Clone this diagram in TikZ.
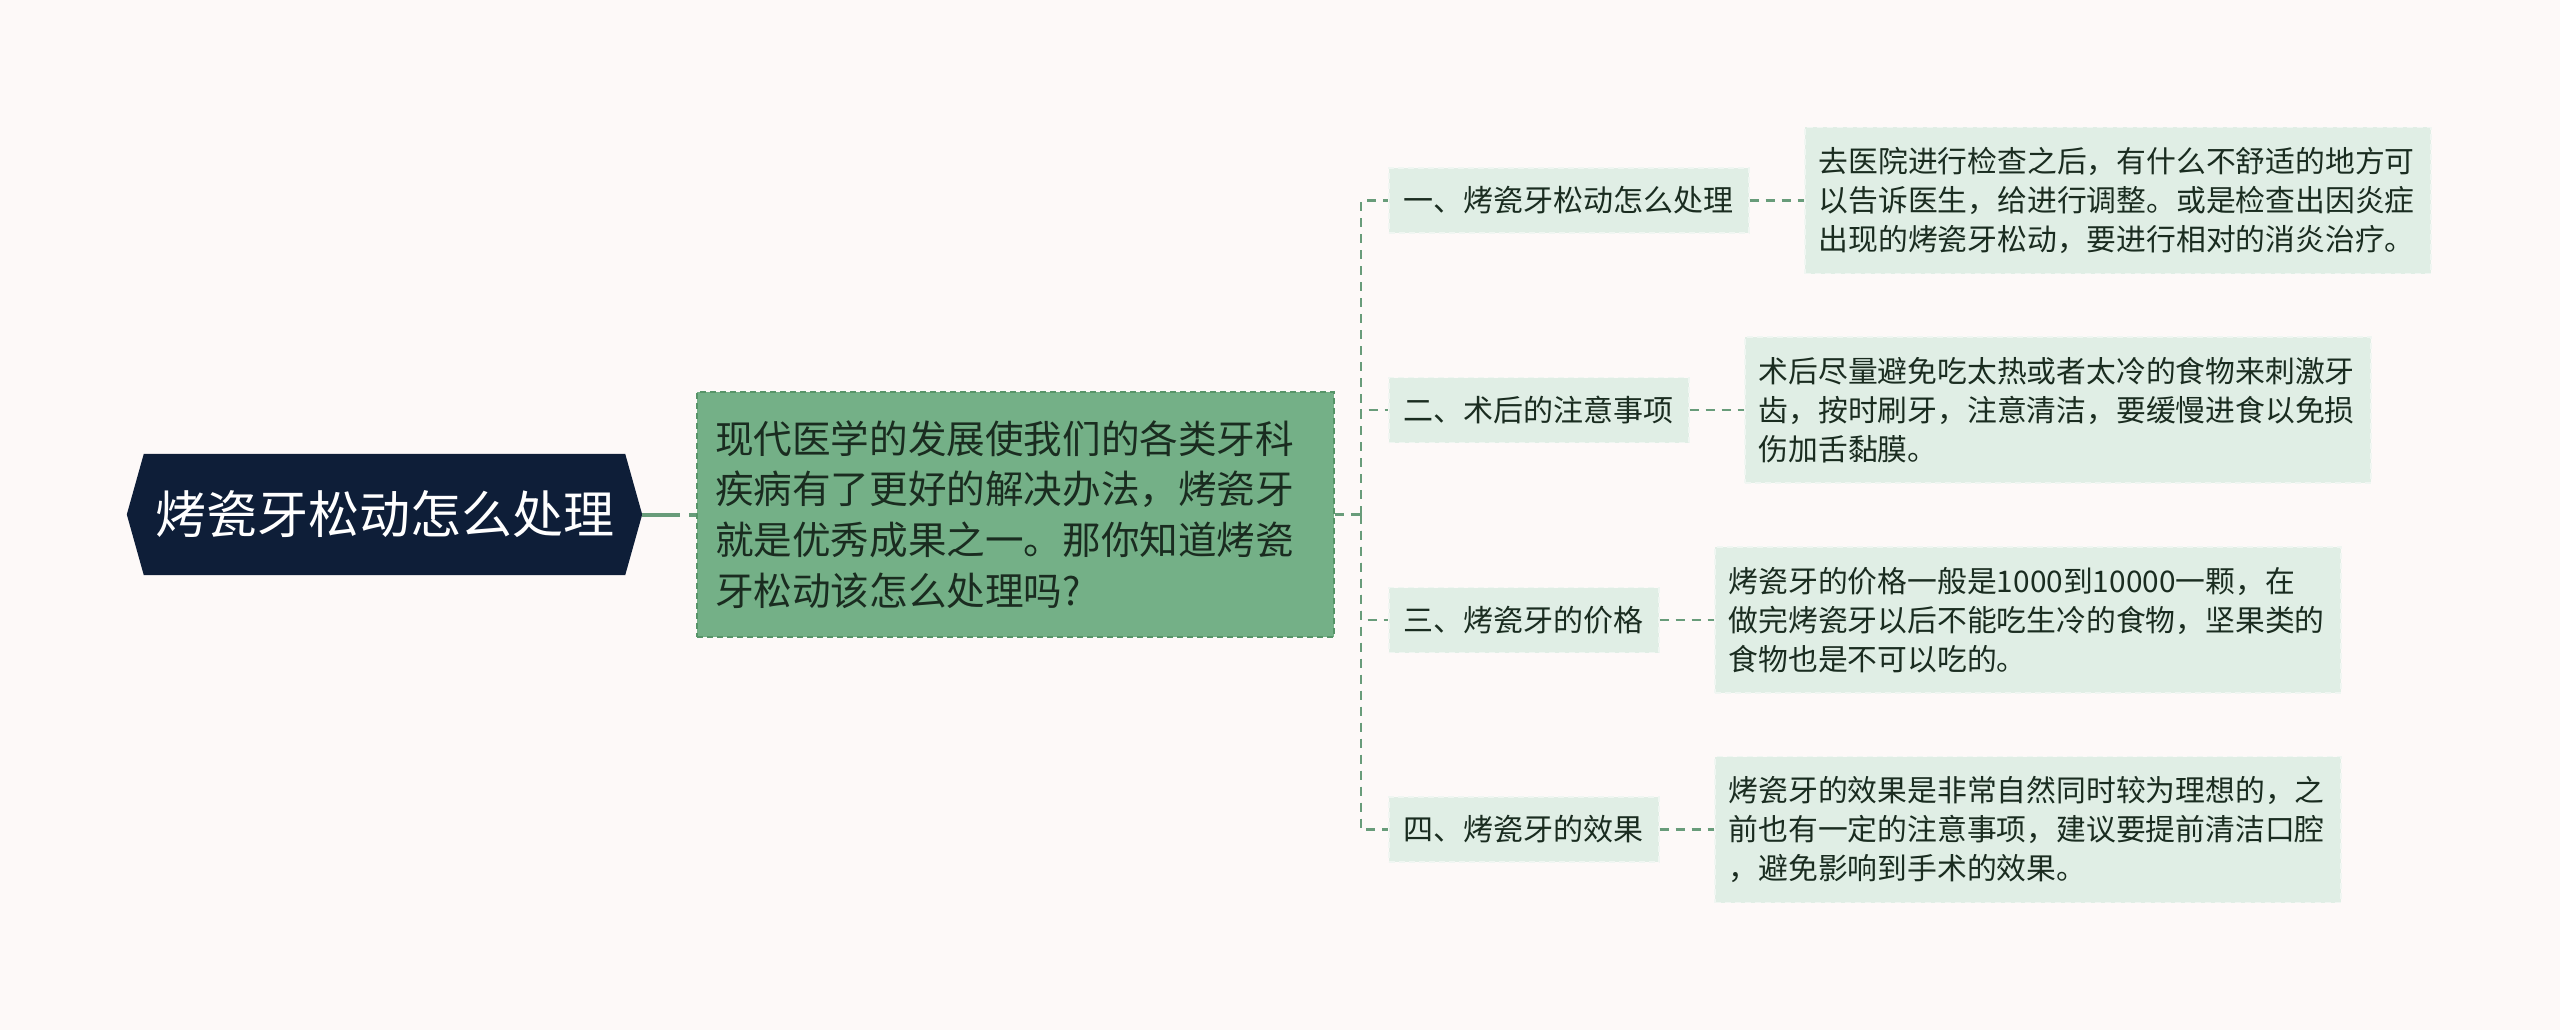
\documentclass[tikz,border=0pt]{standalone}
\usepackage{fontspec}
\newfontfamily\cjk{Noto Sans CJK SC}
\usepackage{tikz}
\usetikzlibrary{positioning}
\usetikzlibrary{backgrounds, calc}
\definecolor{bgpaper}{RGB}{253, 249, 248}
\definecolor{navy}{RGB}{14, 30, 56}
\definecolor{maingreen}{RGB}{116, 176, 135}
\definecolor{mainedge}{RGB}{86, 148, 104}
\definecolor{palegreen}{RGB}{224, 238, 229}
\definecolor{paleedge}{RGB}{240, 246, 242}
\definecolor{linkgreen}{RGB}{104, 156, 122}
\definecolor{inkgreen}{RGB}{26, 44, 32}

\begin{document}
\begin{tikzpicture}[x=1pt, y=-1pt,
    roottext/.style={font=\cjk\fontsize{51pt}{60pt}\selectfont, text=white,
        minimum width=481pt, minimum height=121pt, inner sep=0pt},
    mainbox/.style={draw=mainedge, line width=1.5pt, dash pattern=on 6pt off 4pt,
        fill=maingreen, text=inkgreen, font=\cjk\fontsize{38.6pt}{50.6pt}\selectfont,
        align=left, text width=601pt, inner xsep=18pt, minimum height=245pt},
    subbox/.style={draw=paleedge, line width=1.5pt, dash pattern=on 6pt off 4pt,
        fill=palegreen, text=inkgreen, font=\cjk\fontsize{30pt}{36pt}\selectfont,
        inner xsep=15pt, inner ysep=0pt, minimum height=65pt, anchor=west},
    leafbox/.style={draw=paleedge, line width=1.5pt, dash pattern=on 6pt off 4pt,
        fill=palegreen, text=inkgreen, font=\cjk\fontsize{29.8pt}{39pt}\selectfont,
        align=left, text width=598pt, inner xsep=14pt, minimum height=146pt, anchor=west},
    link/.style={draw=linkgreen, line width=2.2pt, dash pattern=on 9pt off 7pt},
    rootlink/.style={draw=linkgreen, line width=4pt, dash pattern=on 38pt off 9pt}]

    \useasboundingbox (0,0) rectangle (2560,1030);

    % Chủ đề chính
    \node[roottext] (root) at (384.5,514.5) {烤瓷牙松动怎么处理};
    \coordinate (roottip) at ($(root.east)+(17,0)$); % mũi phải của lục giác
    \coordinate (roottail) at ($(root.west)+(-17,0)$); % mũi trái của lục giác

    % Đoạn giới thiệu
    \node[mainbox] (main) at (1015.5,514.5) {现代医学的发展使我们的各类牙科\\疾病有了更好的解决办法，烤瓷牙\\就是优秀成果之一。那你知道烤瓷\\牙松动该怎么处理吗?};
    \coordinate (fork) at (1361,514.5); % điểm rẽ nhánh

    % Bốn mục
    \node[subbox] (s1) at (1388,200.5) {一、烤瓷牙松动怎么处理};
    \node[subbox] (s2) at (1388,410) {二、术后的注意事项};
    \node[subbox] (s3) at (1388,620) {三、烤瓷牙的价格};
    \node[subbox] (s4) at (1388,829.5) {四、烤瓷牙的效果};

    % Nội dung từng mục
    \node[leafbox] (l1) at (1804,200.5) {去医院进行检查之后，有什么不舒适的地方可\\以告诉医生，给进行调整。或是检查出因炎症\\出现的烤瓷牙松动，要进行相对的消炎治疗。};
    \node[leafbox] (l2) at (1744,410) {术后尽量避免吃太热或者太冷的食物来刺激牙\\齿，按时刷牙，注意清洁，要缓慢进食以免损\\伤加舌黏膜。};
    \node[leafbox] (l3) at (1714,620) {烤瓷牙的价格一般是1000到10000一颗，在\\做完烤瓷牙以后不能吃生冷的食物，坚果类的\\食物也是不可以吃的。};
    \node[leafbox] (l4) at (1714,829.5) {烤瓷牙的效果是非常自然同时较为理想的，之\\前也有一定的注意事项，建议要提前清洁口腔\\，避免影响到手术的效果。};

    % Nền và lục giác
    \begin{scope}[on background layer]
        \fill[bgpaper] (0,0) rectangle (2560,1030);
        \fill[navy] (root.north west) -- (root.north east) -- (roottip) -- (root.south east)
            -- (root.south west) -- (roottail) -- cycle;
    \end{scope}

    % Đường nối
    \draw[rootlink] (roottip) -- (main.west);
    \draw[link] (main.east) -- (fork);
    \foreach \s in {s1, s2, s3, s4}
        \draw[link] (fork) |- (\s.west);
    \foreach \s/\l in {s1/l1, s2/l2, s3/l3, s4/l4}
        \draw[link] (\s.east) -- (\l.west);
\end{tikzpicture}
\end{document}
